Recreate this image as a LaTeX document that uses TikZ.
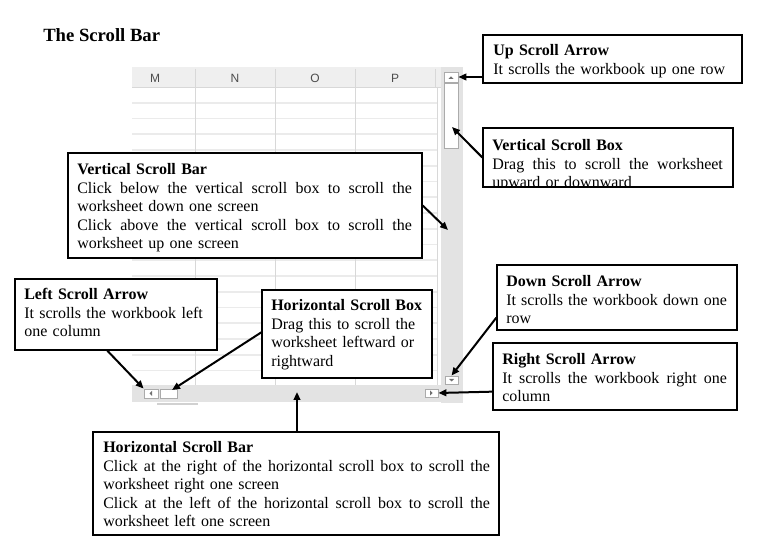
\documentclass[tikz,border=0pt]{standalone}
\usepackage{fontspec}
\setmainfont{Liberation Serif}
\newfontfamily\hdrfont{Liberation Sans}
\usetikzlibrary{arrows.meta,fit,calc}
\definecolor{barbg}{HTML}{E3E3E3}
\definecolor{hdrbg}{HTML}{EFEFEF}
\definecolor{rowln}{HTML}{EBEBEB}
\definecolor{colln}{HTML}{D8D8D8}
\definecolor{btnln}{HTML}{ABABAB}
\definecolor{glyph}{HTML}{707070}
\newcommand\jline[2]{\leavevmode\hbox to #1{\spaceskip=\fontdimen2\font plus 1fil minus 1pt\relax #2}}
\begin{document}
\begin{tikzpicture}[x=0.75pt,y=-0.75pt,
  callout/.style={draw=black,line width=1pt,fill=white,inner sep=0pt},
  txt/.style={anchor=base west,inner sep=0pt,align=left,font=\fontsize{12}{13.8}\selectfont},
  pointer/.style={line width=1.5pt,-{Triangle[length=6pt,width=5pt]}},
  btn/.style={draw=btnln,line width=0.6pt,fill=white,inner sep=0pt},
  hdr/.style={font=\hdrfont\fontsize{9}{10}\selectfont,text=black!70,inner sep=0pt}
]
\useasboundingbox (0,0) rectangle (764,555);
\fill[white] (0,0) rectangle (764,555);

% title
\node[anchor=base west,inner sep=0pt,font=\fontsize{14}{16}\selectfont\bfseries] (title) at (43,42) {The Scroll Bar};

% spreadsheet header
\fill[hdrbg] (132,67) rectangle (441,87);
\draw[colln,line width=0.6pt] (132,87) -- (441,87);
\foreach \x in {195,275,355,435} \draw[colln,line width=0.5pt] (\x,69) -- (\x,87);
\node[hdr] (hM) at (155,78) {M};
\node[hdr] (hN) at (235,78) {N};
\node[hdr] (hO) at (315,78) {O};
\node[hdr] (hP) at (395,78) {P};

% grid
\foreach \k in {1,...,18} \draw[rowln,line width=1.4pt] (132,{87+15.75*\k}) -- (437,{87+15.75*\k});
\foreach \x in {195,275,355,437} \draw[colln,line width=0.6pt] (\x,87) -- (\x,385);

% scroll bars
\fill[barbg] (441,67) rectangle (463,403);
\fill[barbg] (132,385) rectangle (463,402);
\fill[black!18] (157,403) rectangle (198,405);

% buttons
\node[btn, fit={(444,72) (458,82)}] (upbtn) {};
\fill[glyph] (448.5,79) -- (453.5,79) -- (451,76.5) -- cycle;
\node[btn, fit={(444,83) (458,148)}] (vsbox) {};
\node[btn, fit={(445,376) (458,384)}] (downbtn) {};
\fill[glyph] (449,379) -- (454,379) -- (451.5,381.5) -- cycle;
\node[btn, fit={(425,389) (438,397)}] (rightbtn) {};
\fill[glyph] (430,390.5) -- (430,395.5) -- (432.5,393) -- cycle;
\node[btn, fit={(144,389) (158,398)}] (leftbtn) {};
\fill[glyph] (152,391) -- (152,396) -- (149.5,393.5) -- cycle;
\node[btn, fit={(160,389) (177,398)}] (hsbox) {};

% callout boxes
\node[callout, fit={(483,35) (742,83)}] (upcall) {};
\node[txt,text width=180.75pt] (uptxt) at (493,56) {\textbf{Up Scroll Arrow}\\It scrolls the workbook up one row};

\node[callout, fit={(483,128) (733,187)}] (vsbcall) {};
\begin{scope}
\clip (vsbcall.north west) rectangle (vsbcall.south east);
\node[txt,text width=174pt] (vsbtxt) at (492,151) {\textbf{Vertical Scroll Box}\\\jline{173pt}{Drag this to scroll the worksheet}\\upward or downward};
\end{scope}
\draw[line width=1pt] (vsbcall.north west) rectangle (vsbcall.south east);

\node[callout, fit={(68,153) (422,258)}] (vbarcall) {};
\node[txt,text width=252pt] (vbartxt) at (77,175) {\textbf{Vertical Scroll Bar}\\\jline{251pt}{Click below the vertical scroll box to scroll the}\\worksheet down one screen\\\jline{251pt}{Click above the vertical scroll box to scroll the}\\worksheet up one screen};

\node[callout, fit={(15,279) (217,350)}] (leftcall) {};
\node[txt,text width=138pt] (lefttxt) at (24,300) {\textbf{Left Scroll Arrow}\\It scrolls the workbook left\\one column};

\node[callout, fit={(262,290) (432,378)}] (hscall) {};
\node[txt,text width=116pt] (hstxt) at (271,311) {\textbf{Horizontal Scroll Box}\\Drag this to scroll the\\worksheet leftward or\\rightward};

\node[callout, fit={(497,265) (737,330)}] (downcall) {};
\node[txt,text width=166.5pt] (downtxt) at (506,287) {\textbf{Down Scroll Arrow}\\\jline{165.5pt}{It scrolls the workbook down one}\\row};

\node[callout, fit={(493,343) (737,410)}] (rightcall) {};
\node[txt,text width=169.5pt] (righttxt) at (502,365) {\textbf{Right Scroll Arrow}\\\jline{168.5pt}{It scrolls the workbook right one}\\column};

\node[callout, fit={(93,432) (499,535)}] (hbarcall) {};
\node[txt,text width=291pt] (hbartxt) at (103,453) {\textbf{Horizontal Scroll Bar}\\\jline{290pt}{Click at the right of the horizontal scroll box to scroll the}\\worksheet right one screen\\\jline{290pt}{Click at the left of the horizontal scroll box to scroll the}\\worksheet left one screen};

% connectors
\coordinate (vsbtip) at (452,127);
\coordinate (vbartip) at (448,230);
\coordinate (hstip) at (172,390);
\coordinate (hbartip) at (297,392);
\draw[pointer] (upcall.west |- upbtn.east) -- (upbtn.east);
\draw[pointer] (vsbcall.west) -- (vsbtip);
\draw[pointer] (vbarcall.east) -- (vbartip);
\draw[pointer] ($(downcall.south west)+(0,-13)$) -- (downbtn.north);
\draw[pointer] ($(rightcall.south west)+(0,-19)$) -- (rightbtn.east);
\draw[pointer] ($(leftcall.south west)+(93,0)$) -- (leftbtn.north west);
\draw[pointer] ($(hscall.north west)+(0,43)$) -- (hstip);
\draw[pointer] (hbarcall.north -| hbartip) -- (hbartip);
\end{tikzpicture}
\end{document}
